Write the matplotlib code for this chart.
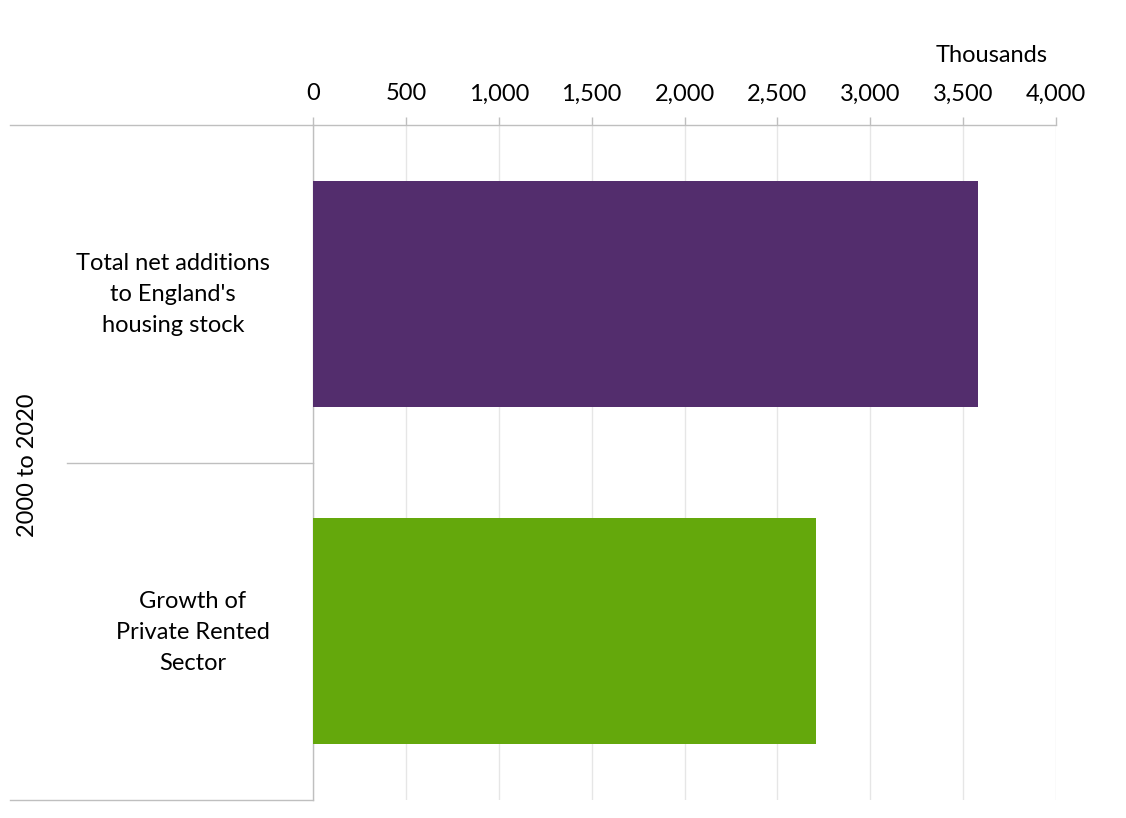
import matplotlib
matplotlib.use("Agg")
import matplotlib.pyplot as plt
from matplotlib.ticker import FuncFormatter, MultipleLocator
import matplotlib.transforms as mtransforms

plt.rcParams["font.family"] = ["Lato", "DejaVu Sans"]

# Housing stock change in England, 2000 to 2020 (thousands)
categories = ["Total net additions\nto England's\nhousing stock",
              "Growth of\nPrivate Rented\nSector"]
values = [3580, 2706]
bar_colors = ["#532D6D", "#64A80C"]
group_label = "2000 to 2020"
unit_label = "Thousands"

LINE = "#BFBFBF"
GRID = "#E6E6E6"
TEXT = "#000000"
FS = 17

fig = plt.figure(figsize=(11.26, 8.18), dpi=100)
ax = fig.add_axes([313 / 1126, 1 - 800 / 818, 743 / 1126, 675 / 818])

pos = list(range(len(categories)))
ax.barh(pos, values, height=0.67, color=bar_colors, zorder=3)

ax.set_xlim(0, 4000)
ax.set_ylim(len(categories) - 0.5, -0.5)
ax.xaxis.set_major_locator(MultipleLocator(500))
ax.xaxis.set_major_formatter(FuncFormatter(lambda v, _: f"{int(v):,}"))
ax.xaxis.tick_top()
ax.tick_params(axis="x", direction="out", length=5.8, width=1, color=LINE,
               labelsize=FS, labelcolor=TEXT, pad=9)
ax.grid(axis="x", color=GRID, linewidth=1, zorder=0)

ax.set_yticks(pos)
ax.set_yticklabels(categories, multialignment="center", fontsize=FS,
                   linespacing=1.58)
ax.tick_params(axis="y", length=0, pad=31)
# nudge the wrapped category labels up a little
nudge = mtransforms.ScaledTranslation(0, 0.06, fig.dpi_scale_trans)
for lbl in ax.get_yticklabels():
    lbl.set_transform(lbl.get_transform() + nudge)

for side in ["right", "bottom"]:
    ax.spines[side].set_visible(False)
for side in ["top", "left"]:
    ax.spines[side].set_color(LINE)
    ax.spines[side].set_linewidth(1)

# multi-level category axis lines on the left
trans = mtransforms.blended_transform_factory(ax.transAxes, ax.transData)
ax.plot([-0.408, 0], [-0.5, -0.5], color=LINE, lw=1, transform=trans, clip_on=False)
ax.plot([-0.408, 0], [1.5, 1.5], color=LINE, lw=1, transform=trans, clip_on=False)
ax.plot([-0.331, 0], [0.5, 0.5], color=LINE, lw=1, transform=trans, clip_on=False)

fig.text(27 / 1126, 1 - 465 / 818, group_label, rotation=90, ha="center",
         va="center", fontsize=FS, color=TEXT)
fig.text(992 / 1126, 1 - 55 / 818, unit_label, ha="center", va="center",
         fontsize=FS, color=TEXT)

fig.savefig("out.png", dpi=100)
